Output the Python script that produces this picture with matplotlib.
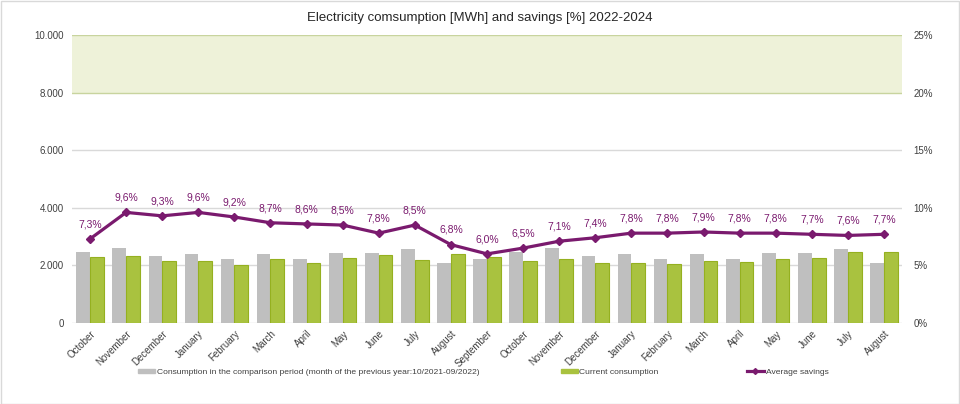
import matplotlib.pyplot as plt
import numpy as np
from matplotlib.patches import Patch
from matplotlib.lines import Line2D

plt.rcParams['font.family'] = ['Liberation Sans', 'DejaVu Sans']

months = ['October', 'November', 'December', 'January', 'February', 'March', 'April',
          'May', 'June', 'July', 'August', 'September', 'October', 'November',
          'December', 'January', 'February', 'March', 'April', 'May', 'June',
          'July', 'August']
previous = [2476, 2615, 2337, 2406, 2222, 2406, 2233, 2441, 2441, 2569, 2094, 2233,
            2476, 2615, 2337, 2406, 2222, 2406, 2233, 2441, 2441, 2557, 2094]
current = [2302, 2314, 2152, 2152, 2025, 2222, 2071, 2245, 2372, 2199, 2384, 2302,
           2164, 2233, 2071, 2071, 2048, 2164, 2129, 2233, 2268, 2476, 2476]
savings = [7.3, 9.6, 9.3, 9.6, 9.2, 8.7, 8.6, 8.5, 7.8, 8.5, 6.8, 6.0, 6.5, 7.1,
           7.4, 7.8, 7.8, 7.9, 7.8, 7.8, 7.7, 7.6, 7.7]

gray = '#BFBFBF'
green = '#A9C23F'
purple = '#7A1A6E'
text_col = '#404040'

fig = plt.figure(figsize=(9.6, 4.04), dpi=100)
ax = fig.add_axes([0.075, 0.2005, 0.8646, 0.7129])
ax2 = ax.twinx()

x = np.arange(len(months))
w = 0.38

# green band 8000-10000
ax.axhspan(8000, 10000, color='#EEF2D9', zorder=0, lw=0)
for yv in [2000, 4000, 6000]:
    ax.axhline(yv, color='#D9D9D9', lw=1, zorder=0.5)
for yv in [8000, 10000]:
    ax.axhline(yv, color='#C8D49E', lw=1, zorder=0.5)
ax.axhline(0, color='#D9D9D9', lw=1, zorder=0.5)

ax.bar(x - w / 2, previous, w, color=gray, zorder=2)
ax.bar(x + w / 2, current, w, color=green, edgecolor='#95B020', linewidth=0.8, zorder=2)

ax2.plot(x, savings, color=purple, lw=2.3, marker='D', markersize=4, zorder=3)
for xi, s in zip(x, savings):
    ax2.annotate(f'{s:.1f}%'.replace('.', ','), (xi, s), xytext=(0, 7),
                 textcoords='offset points', ha='center', va='bottom',
                 fontsize=7.5, color=purple)

ax.set_xlim(-0.5, len(months) - 0.5)
ax.set_ylim(0, 10000)
ax2.set_ylim(0, 25)
ax.set_yticks(range(0, 10001, 2000))
ax.set_yticklabels([f'{v:,}'.replace(',', '.') for v in range(0, 10001, 2000)])
ax2.set_yticks(range(0, 26, 5))
ax2.set_yticklabels([f'{v}%' for v in range(0, 26, 5)])

ax.set_xticks(x)
ax.set_xticklabels(months, rotation=45, ha='right', rotation_mode='anchor')

for a in (ax, ax2):
    for sp in a.spines.values():
        sp.set_visible(False)
    a.tick_params(length=0, labelsize=7, colors=text_col)
ax.tick_params(axis='y', pad=6)
ax2.tick_params(axis='y', pad=8)
ax.tick_params(axis='x', pad=4)

ax.set_zorder(ax2.get_zorder() - 1)
ax.patch.set_visible(True)
ax2.patch.set_visible(False)

fig.text(0.5, 0.955, 'Electricity comsumption [MWh] and savings [%] 2022-2024',
         ha='center', va='center', fontsize=9.5, color='#262626')

# legends
lx = [(Patch(color=gray), 'Consumption in the comparison period (month of the previous year:10/2021-09/2022)', 0.144),
      (Patch(color=green), 'Current consumption', 0.584),
      (Line2D([], [], color=purple, lw=2.3, marker='D', markersize=3), 'Average savings', 0.778)]
for h, lab, xpos in lx:
    fig.legend(handles=[h], labels=[lab], loc='center left', bbox_to_anchor=(xpos, 0.079),
               frameon=False, fontsize=6.1, handlelength=2.0, handleheight=0.35,
               handletextpad=0.2, borderaxespad=0, borderpad=0, labelcolor=text_col)

# outer frame
fig.patches.append(plt.Rectangle((0.001, 0.001), 0.998, 0.997, transform=fig.transFigure,
                                 fill=False, edgecolor='#D9D9D9', lw=1))

fig.savefig('out.png', dpi=100)
